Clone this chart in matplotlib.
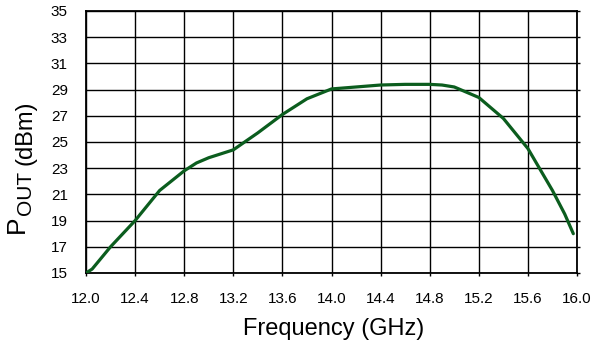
import numpy as np
import matplotlib.pyplot as plt

plt.rcParams['font.family'] = ['Liberation Sans', 'DejaVu Sans']

# measured output power vs frequency
freq_ghz = [12.0, 12.05, 12.2, 12.4, 12.6, 12.8, 12.9, 13.0, 13.2, 13.4, 13.6, 13.8,
            14.0, 14.2, 14.4, 14.6, 14.8, 14.9, 15.0, 15.2, 15.4, 15.6, 15.8,
            15.9, 15.97]
pout_dbm = [15.0, 15.3, 17.0, 19.0, 21.3, 22.8, 23.4, 23.8, 24.4, 25.7, 27.1, 28.3,
            29.05, 29.2, 29.35, 29.4, 29.4, 29.35, 29.2, 28.4, 26.8, 24.5, 21.3,
            19.5, 18.0]

x_ticks = [12.0, 12.4, 12.8, 13.2, 13.6, 14.0, 14.4, 14.8, 15.2, 15.6, 16.0]
y_ticks = list(range(15, 36, 2))

W, H = 595, 347
fig = plt.figure(figsize=(W / 100, H / 100), dpi=100)
ax = fig.add_axes([86 / W, 74 / H, 491 / W, 262 / H])

ax.plot(freq_ghz, pout_dbm, color='#0b5d1e', lw=2.3, solid_capstyle='round', zorder=3)

ax.set_xlim(12.0, 16.0)
ax.set_ylim(15, 35)
ax.set_xticks(x_ticks)
ax.set_xticklabels([f'{v:.1f}' for v in x_ticks])
ax.set_yticks(y_ticks)
ax.grid(True, color='black', lw=1.0)
ax.set_axisbelow(True)
for s in ax.spines.values():
    s.set_linewidth(1.3)
ax.tick_params(axis='x', length=2, width=1.0, pad=12, labelsize=11)
ax.tick_params(axis='y', left=False, right=True, length=2, width=1.0, pad=11, labelsize=11)

fig.text(334 / W, 1 - 329 / H, 'Frequency (GHz)', ha='center', va='center', fontsize=17)

# y label: P with OUT subscript, then (dBm), laid end to end
fig.text(28.5 / W, 1 - 233 / H, 'P', ha='right', va='bottom', rotation=90, fontsize=19)
fig.text(35 / W, 1 - 215 / H, 'OUT', ha='right', va='bottom', rotation=90, fontsize=15)
fig.text(36 / W, 1 - 165 / H, '(dBm)', ha='right', va='bottom', rotation=90, fontsize=17)

fig.savefig('out.png', dpi=100)
